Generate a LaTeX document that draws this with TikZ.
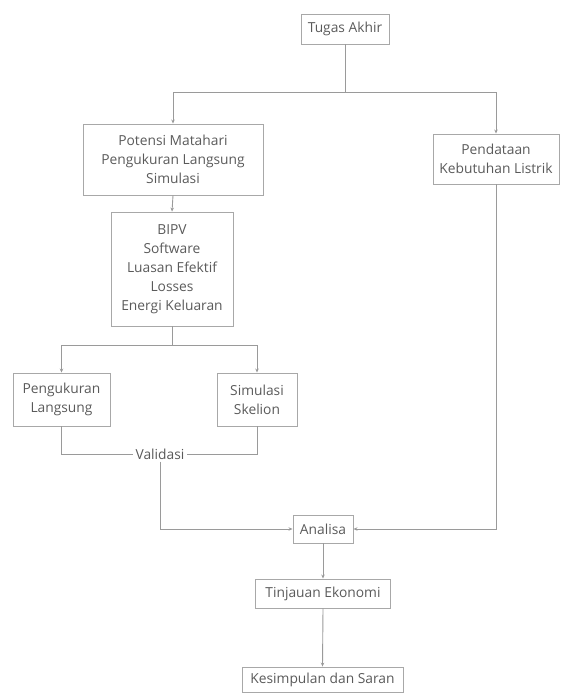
\documentclass[tikz,border=0pt]{standalone}
\usepackage{fontspec}
\setmainfont{Open Sans}
\usetikzlibrary{arrows.meta}
\definecolor{linec}{HTML}{9A9A9A}
\definecolor{boxc}{HTML}{A8A8A8}
\definecolor{txtc}{HTML}{5A5A5A}
\tikzset{
  box/.style={draw=boxc, line width=0.9pt, text=txtc, align=center, inner sep=1pt, font=\fontsize{13.8}{19}\selectfont},
  conn/.style={draw=linec, line width=0.9pt},
  arr/.style={conn, -{Stealth[length=4pt,width=3.5pt]}},
}
\begin{document}
\begin{tikzpicture}[x=1pt,y=-1pt]
\useasboundingbox (0,0) rectangle (561,693);
\node[box, minimum width=88pt, minimum height=30pt] (ta) at (345,29) {Tugas Akhir};
\node[box, minimum width=180pt, minimum height=71pt] (pot) at (173,159.5) {Potensi Matahari\\Pengukuran Langsung\\Simulasi};
\node[box, minimum width=126pt, minimum height=50pt] (pen) at (496,159) {Pendataan\\Kebutuhan Listrik};
\node[box, minimum width=122pt, minimum height=114pt] (bipv) at (172,269) {BIPV\\Software\\Luasan Efektif\\Losses\\Energi Keluaran};
\node[box, minimum width=97pt, minimum height=53pt] (peng) at (61.5,399.5) {Pengukuran\\Langsung};
\node[box, minimum width=80pt, minimum height=53pt] (sim) at (257,399.5) {Simulasi\\Skelion};
\node[text=txtc, font=\fontsize{13.8}{19}\selectfont, inner sep=2pt] (val) at (160,454) {Validasi};
\node[box, minimum width=60pt, minimum height=28pt] (ana) at (323,529) {Analisa};
\node[box, minimum width=135pt, minimum height=29pt] (tin) at (323,593.5) {Tinjauan Ekonomi};
\node[box, minimum width=161pt, minimum height=25pt] (kes) at (322.5,679.5) {Kesimpulan dan Saran};
\coordinate (j1) at (345,92);
\coordinate (j2) at (172,345.5);
\draw[conn] (ta.south) -- (j1);
\draw[arr] (j1) -| (pot.north);
\draw[arr] (j1) -| (pen.north);
\draw[arr] (pot.south) -- (bipv.north);
\draw[conn] (bipv.south) -- (j2);
\draw[arr] (j2) -| (peng.north);
\draw[arr] (j2) -| (sim.north);
\draw[conn] (peng.south) |- (val.west);
\draw[conn] (sim.south) |- (val.east);
\draw[arr] (val.south) |- (ana.west);
\draw[arr] (pen.south) |- (ana.east);
\draw[arr] (ana.south) -- (tin.north);
\draw[arr] (tin.south) -- (kes.north);
\end{tikzpicture}
\end{document}
